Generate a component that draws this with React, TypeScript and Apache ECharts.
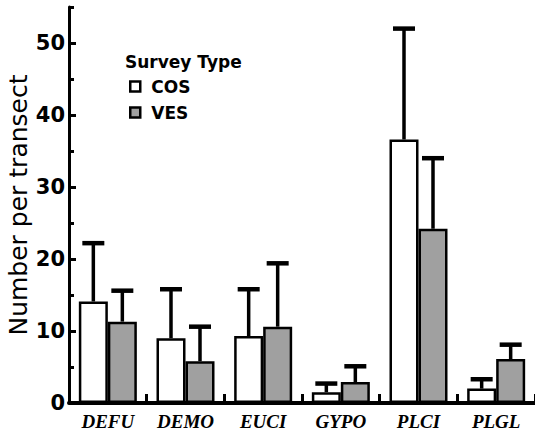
import React, { useEffect, useRef } from 'react';
import * as echarts from 'echarts';

const categories = ['DEFU', 'DEMO', 'EUCI', 'GYPO', 'PLCI', 'PLGL'];
const cosMean = [14.1, 9.0, 9.3, 1.5, 36.6, 2.0];
const cosUpper = [22.2, 15.8, 15.8, 2.7, 52.0, 3.3];
const vesMean = [11.3, 5.8, 10.6, 2.9, 24.2, 6.1];
const vesUpper = [15.6, 10.6, 19.4, 5.1, 34.0, 8.1];
const majorTicks = [0, 10, 20, 30, 40, 50];
const minorTicks = [5, 15, 25, 35, 45, 55];
const yMin = 0;
const yMax = 55;

const BAR_W = 29;

function errorSeries(name: string, means: number[], uppers: number[], offset: number) {
  return {
    name: name + ' error',
    type: 'custom',
    z: 5,
    silent: true,
    encode: { x: 0, y: [1, 2] },
    data: means.map((m, i) => [i, m, uppers[i]]),
    renderItem: (params: any, api: any) => {
      const idx = api.value(0);
      const top = api.coord([idx, api.value(1)]);
      const up = api.coord([idx, api.value(2)]);
      const x = top[0] + offset;
      return {
        type: 'group',
        children: [
          {
            type: 'line',
            shape: { x1: x, y1: top[1], x2: x, y2: up[1] },
            style: { stroke: '#000', lineWidth: 3.5 },
          },
          {
            type: 'line',
            shape: { x1: x - 11, y1: up[1], x2: x + 11, y2: up[1] },
            style: { stroke: '#000', lineWidth: 4.5 },
          },
        ],
      };
    },
  };
}

export default function App() {
  const ref = useRef<HTMLDivElement>(null);
  useEffect(() => {
    if (!ref.current) return;
    const chart = echarts.init(ref.current, undefined, { renderer: 'svg' });
    const option: any = {
      animation: false,
      backgroundColor: '#fff',
      grid: { left: 69, right: 0, top: 7, bottom: 32, containLabel: false, outerBoundsMode: 'none' },
      legend: {
        orient: 'vertical',
        left: 129,
        top: 78,
        padding: 0,
        itemGap: 9,
        itemWidth: 10,
        itemHeight: 10,
        icon: 'rect',
        textStyle: {
          fontFamily: 'DejaVu Sans',
          fontWeight: 'bold',
          fontSize: 17,
          color: '#000',
          padding: [0, 0, 0, 6],
        },
        data: [
          { name: 'COS', itemStyle: { color: '#fff', borderColor: '#000', borderWidth: 2.5 } },
          { name: 'VES', itemStyle: { color: '#a0a0a0', borderColor: '#000', borderWidth: 2.5 } },
        ],
      },
      graphic: [
        {
          type: 'text',
          left: 125,
          top: 53,
          style: {
            text: 'Survey Type',
            fontFamily: 'DejaVu Sans',
            fontWeight: 'bold',
            fontSize: 17,
            fill: '#000',
          },
        },
        {
          type: 'text',
          x: 18,
          y: 205,
          rotation: Math.PI / 2,
          style: {
            text: 'Number per transect',
            fontFamily: 'DejaVu Sans',
            fontSize: 25,
            fill: '#000',
            align: 'center',
            verticalAlign: 'middle',
          },
        },
      ],
      xAxis: {
        type: 'category',
        data: categories,
        axisLine: { show: true, lineStyle: { color: '#000', width: 4 } },
        axisTick: { show: true, inside: true, length: 9, interval: 0, lineStyle: { color: '#000', width: 3 } },
        axisLabel: {
          interval: 0,
          margin: 9,
          fontFamily: 'Liberation Serif',
          fontWeight: 'bold',
          fontStyle: 'italic',
          fontSize: 19,
          color: '#000',
        },
        splitLine: { show: false },
      },
      yAxis: [
        {
          type: 'value',
          min: yMin,
          max: yMax,
          interval: 10,
          axisLine: { show: true, onZero: false, lineStyle: { color: '#000', width: 3 } },
          axisTick: {
            show: true,
            inside: true,
            length: 7,
            customValues: majorTicks,
            lineStyle: { color: '#000', width: 3 },
          },
          axisLabel: {
            customValues: majorTicks,
            margin: 4,
            fontFamily: 'DejaVu Sans',
            fontWeight: 'bold',
            fontSize: 21,
            color: '#000',
            formatter: (v: number) => (v % 10 === 0 ? String(v) : ''),
          },
          splitLine: { show: false },
        },
        {
          type: 'value',
          min: yMin,
          max: yMax,
          interval: 5,
          position: 'left',
          axisLine: { show: false },
          axisTick: {
            show: true,
            inside: true,
            length: 5,
            customValues: minorTicks,
            lineStyle: { color: '#000', width: 3 },
          },
          axisLabel: { show: false },
          splitLine: { show: false },
        },
      ],
      series: [
        {
          name: 'COS',
          type: 'bar',
          data: cosMean,
          barWidth: BAR_W,
          barGap: '0%',
          itemStyle: { color: '#fff', borderColor: '#000', borderWidth: 2.5 },
        },
        {
          name: 'VES',
          type: 'bar',
          data: vesMean,
          barWidth: BAR_W,
          barGap: '0%',
          itemStyle: { color: '#a0a0a0', borderColor: '#000', borderWidth: 2.5 },
        },
        errorSeries('COS', cosMean, cosUpper, -BAR_W / 2),
        errorSeries('VES', vesMean, vesUpper, BAR_W / 2),
      ],
    };
    chart.setOption(option);
    return () => chart.dispose();
  }, []);
  return (
    <div
      ref={ref}
      style={{ position: 'fixed', left: 0, top: 0, width: 535, height: 435 }}
    />
  );
}
